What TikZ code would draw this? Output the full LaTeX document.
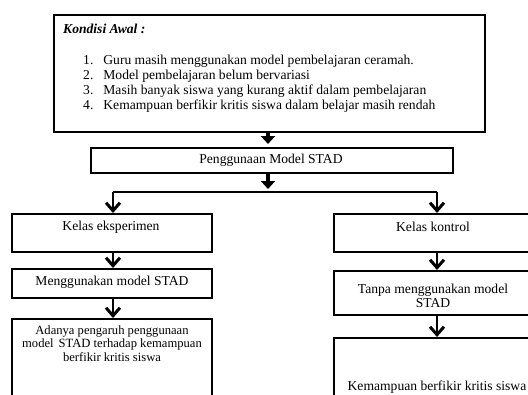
\documentclass[tikz,border=0pt]{standalone}
\usepackage{fontspec}
\setmainfont{Liberation Serif}
\usepackage{tikz}
\usetikzlibrary{arrows.meta}

\begin{document}
\begin{tikzpicture}[x=1pt,y=-1pt,
  box/.style={draw,line width=1.6pt,rectangle,inner sep=0pt,anchor=north west},
  txt/.style={font=\fontsize{13.6}{13.6}\selectfont,align=center,inner sep=0pt},
  bigarrow/.style={line width=4.5pt,-{Triangle[length=8pt,width=14pt]},shorten >=3pt},
  smallarrow/.style={line width=2pt,-{Straight Barb[length=8pt,width=14pt,line width=3pt]}}]
\useasboundingbox (0,0) rectangle (528,394);
\clip (0,0) rectangle (528,394);

% Kondisi awal box
\node[box,minimum width=431pt,minimum height=117pt] (awal) at (53,14) {};
\node[txt,anchor=west] (judul) at (63,29) {\textbf{\textit{Kondisi Awal :}}};
\node[txt,anchor=base west,align=left] (daftar) at (83,64) {%
\fontsize{13.6}{15.3}\selectfont
\begin{tabular}[t]{@{}r@{\hspace{10pt}}l@{}}
1. & Guru masih menggunakan model pembelajaran ceramah.\\
2. & Model pembelajaran belum bervariasi\\
3. & Masih banyak siswa yang kurang aktif dalam pembelajaran\\
4. & Kemampuan berfikir kritis siswa dalam belajar masih rendah
\end{tabular}};

% STAD box
\node[box,minimum width=362pt,minimum height=25pt] (stad) at (90,147) {};
\node[txt] (stadtxt) at (271,160) {Penggunaan Model STAD};

% Left column
\node[box,minimum width=200pt,minimum height=38pt] (eks) at (11,213) {};
\node[txt] (ekstxt) at (111,227) {Kelas eksperimen};
\node[box,minimum width=200pt,minimum height=29pt] (pakai) at (11,268) {};
\node[txt] (pakaitxt) at (112,282) {Menggunakan model STAD};
\node[box,minimum width=200pt,minimum height=90pt] (hasila) at (11,318) {};
\node[txt,font=\fontsize{12.6}{13.6}\selectfont] (hasilatxt) at (112,343.5) {Adanya pengaruh penggunaan\\model\hspace{5pt}STAD terhadap kemampuan\\berfikir kritis siswa};

% Right column
\node[box,minimum width=200pt,minimum height=38pt] (kon) at (333,213) {};
\node[txt] (kontxt) at (433,227) {Kelas kontrol};
\node[box,minimum width=200pt,minimum height=44pt] (tanpa) at (333,270) {};
\node[txt] (tanpatxt) at (433,296) {Tanpa menggunakan model\\STAD};
\node[box,minimum width=200pt,minimum height=70pt] (hasilb) at (333,337) {};
\node[txt] (hasilbtxt) at (437,387) {Kemampuan berfikir kritis siswa};

% Arrows
\coordinate (cabang) at (268,192);
\coordinate (kiri) at (113,192);
\coordinate (kanan) at (437,192);
\draw[bigarrow] (awal.south -| cabang) -- (cabang |- stad.north);
\draw[bigarrow] (stad.south -| cabang) -- (cabang);
\draw[line width=1.6pt] (kiri) -- (kanan);
\draw[smallarrow] (kiri) -- (kiri |- eks.north);
\draw[smallarrow] (kanan) -- (kanan |- kon.north);
\draw[smallarrow] (eks.south -| kiri) -- (kiri |- pakai.north);
\draw[smallarrow] (pakai.south -| kiri) -- (kiri |- hasila.north);
\draw[smallarrow] (kon.south -| kanan) -- (kanan |- tanpa.north);
\draw[smallarrow] (tanpa.south -| kanan) -- (kanan |- hasilb.north);
\end{tikzpicture}
\end{document}
